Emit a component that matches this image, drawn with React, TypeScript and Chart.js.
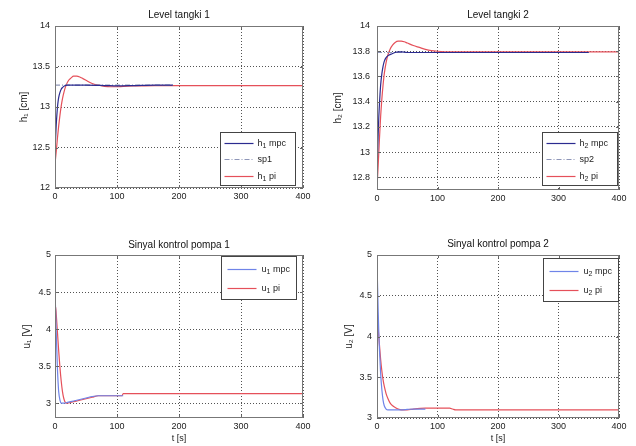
import React, { useEffect, useRef } from "react";
import { Chart, registerables } from "chart.js";

Chart.register(...registerables);

const FONT = "'Liberation Sans', Arial, Helvetica, 'DejaVu Sans', sans-serif";

// ---------- tick labels ----------
const xTicks = [0, 100, 200, 300, 400];
const h1Ticks = [12, 12.5, 13, 13.5, 14];
const h2Ticks = [12.8, 13, 13.2, 13.4, 13.6, 13.8, 14];
const u1Ticks = [3, 3.5, 4, 4.5, 5];
const u2Ticks = [3, 3.5, 4, 4.5, 5];

// ---------- Level tangki 1 ----------
const h1MpcT = [0, 1, 2, 3, 4, 5, 6, 8, 10, 12, 15, 20, 30, 50, 80, 100, 130, 160, 190];
const h1MpcY = [12.45, 12.62, 12.78, 12.9, 13.0, 13.07, 13.12, 13.18, 13.22, 13.24, 13.26, 13.27, 13.27, 13.27, 13.265, 13.26, 13.265, 13.27, 13.27];
const sp1T = [0, 190];
const sp1Y = [13.27, 13.27];
const h1PiT = [0, 2, 4, 6, 8, 10, 12, 15, 18, 22, 26, 30, 35, 40, 45, 50, 60, 70, 80, 90, 100, 110, 130, 160, 200, 300, 400];
const h1PiY = [12.3, 12.45, 12.62, 12.77, 12.9, 13.01, 13.1, 13.2, 13.27, 13.33, 13.36, 13.38, 13.38, 13.37, 13.35, 13.33, 13.29, 13.27, 13.255, 13.25, 13.25, 13.255, 13.26, 13.265, 13.265, 13.265, 13.265];

// ---------- Level tangki 2 ----------
const h2MpcT = [0, 1, 2, 3, 4, 5, 6, 8, 10, 12, 15, 20, 25, 30, 35, 40, 50, 70, 100, 150, 200, 250, 300, 350];
const h2MpcY = [12.85, 13.0, 13.15, 13.28, 13.38, 13.46, 13.53, 13.62, 13.68, 13.72, 13.75, 13.77, 13.78, 13.79, 13.795, 13.795, 13.79, 13.79, 13.79, 13.79, 13.79, 13.79, 13.79, 13.79];
const sp2T = [0, 350];
const sp2Y = [13.79, 13.79];
const h2PiT = [0, 2, 4, 6, 8, 10, 12, 15, 18, 22, 26, 30, 35, 40, 45, 50, 60, 70, 80, 90, 100, 120, 150, 200, 300, 400];
const h2PiY = [12.72, 12.9, 13.1, 13.28, 13.42, 13.53, 13.62, 13.71, 13.77, 13.82, 13.85, 13.87, 13.88, 13.88, 13.875, 13.865, 13.845, 13.83, 13.815, 13.805, 13.8, 13.795, 13.795, 13.795, 13.795, 13.795];

// ---------- Sinyal kontrol pompa 1 ----------
const u1MpcT = [0, 1, 2, 3, 4, 5, 6, 8, 10, 15, 20, 25, 30, 40, 50, 60, 70, 80, 90, 100, 110];
const u1MpcY = [4.5, 4.25, 3.95, 3.7, 3.45, 3.28, 3.15, 3.04, 3.0, 3.0, 3.01, 3.02, 3.03, 3.05, 3.07, 3.09, 3.1, 3.1, 3.1, 3.1, 3.1];
const u1PiT = [0, 1, 2, 4, 6, 8, 10, 12, 14, 16, 18, 20, 25, 30, 40, 50, 60, 70, 80, 90, 100, 108, 110, 150, 200, 300, 400];
const u1PiY = [4.25, 4.3, 4.2, 3.95, 3.7, 3.48, 3.3, 3.16, 3.07, 3.02, 3.0, 3.0, 3.01, 3.02, 3.04, 3.06, 3.08, 3.1, 3.1, 3.1, 3.1, 3.1, 3.13, 3.13, 3.13, 3.13, 3.13];

// ---------- Sinyal kontrol pompa 2 ----------
const u2MpcT = [0, 1, 2, 3, 4, 5, 6, 8, 10, 12, 15, 18, 20, 25, 30, 40, 50, 60, 70, 80];
const u2MpcY = [4.9, 4.6, 4.3, 4.05, 3.85, 3.7, 3.55, 3.35, 3.22, 3.15, 3.11, 3.1, 3.1, 3.1, 3.1, 3.1, 3.105, 3.11, 3.11, 3.11];
const u2PiT = [0, 1, 2, 4, 6, 8, 10, 12, 15, 18, 22, 26, 30, 35, 40, 45, 50, 60, 80, 100, 120, 125, 130, 200, 300, 400];
const u2PiY = [4.3, 4.25, 4.1, 3.9, 3.72, 3.58, 3.47, 3.39, 3.3, 3.24, 3.18, 3.15, 3.13, 3.11, 3.1, 3.1, 3.1, 3.11, 3.12, 3.12, 3.12, 3.11, 3.1, 3.1, 3.1, 3.1];

// ---------- styles ----------
const MPC_DARK = "#2b2b90";
const MPC_LIGHT = "#6f84e8";
const SP_COLOR = "#8e96b8";
const PI_COLOR = "#e5505a";
const GRID = "rgba(40,40,40,0.8)";
const TEXT = "#222";
const LINE_W = 1.2;

type Series = { label: string; t: number[]; y: number[]; color: string; dash?: number[] };
type Legend = { anchor: "top" | "bottom"; insetR: number; insetV: number; w: number; h: number; rows: number[]; lineX0: number; lineX1: number; textX: number };
type Panel = {
  left: number; top: number; width: number; height: number;
  area: { l: number; t: number; r: number; b: number };
  title: string; titlePadTop: number;
  yTitle: string; yTitlePad: number; yTickPad: number;
  xTitle?: string;
  yMin: number; yMax: number; yTicks: number[];
  series: Series[];
  legend: Legend;
};

const topLegend = (insetR: number, insetV: number): Legend => ({ anchor: "bottom", insetR, insetV, w: 75, h: 53, rows: [10, 26.5, 43], lineX0: 4, lineX1: 33, textX: 37 });
const botLegend = (insetR: number, insetV: number): Legend => ({ anchor: "top", insetR, insetV, w: 75, h: 43, rows: [12, 31], lineX0: 6, lineX1: 35, textX: 40 });

const panels: Panel[] = [
  {
    left: 0, top: 0, width: 318, height: 223,
    area: { l: 55, t: 26, r: 303, b: 188 },
    title: "Level tangki 1", titlePadTop: 9,
    yTitle: "h\u2081 [cm]", yTitlePad: 18, yTickPad: 5,
    yMin: 12, yMax: 14, yTicks: h1Ticks,
    series: [
      { label: "h_1 mpc", t: h1MpcT, y: h1MpcY, color: MPC_DARK },
      { label: "sp1", t: sp1T, y: sp1Y, color: SP_COLOR, dash: [5, 2, 1, 2] },
      { label: "h_1 pi", t: h1PiT, y: h1PiY, color: PI_COLOR },
    ],
    legend: topLegend(8, 3),
  },
  {
    left: 318, top: 0, width: 318, height: 223,
    area: { l: 59, t: 26, r: 301, b: 190 },
    title: "Level tangki 2", titlePadTop: 9,
    yTitle: "h\u2082 [cm]", yTitlePad: 14, yTickPad: 7,
    yMin: 12.7, yMax: 14, yTicks: h2Ticks,
    series: [
      { label: "h_2 mpc", t: h2MpcT, y: h2MpcY, color: MPC_DARK },
      { label: "sp2", t: sp2T, y: sp2Y, color: SP_COLOR, dash: [5, 2, 1, 2] },
      { label: "h_2 pi", t: h2PiT, y: h2PiY, color: PI_COLOR },
    ],
    legend: topLegend(2, 5),
  },
  {
    left: 0, top: 223, width: 318, height: 223,
    area: { l: 55, t: 32, r: 303, b: 195 },
    title: "Sinyal kontrol pompa 1", titlePadTop: 16,
    yTitle: "u\u2081 [V]", yTitlePad: 21, yTickPad: 4,
    xTitle: "t [s]",
    yMin: 2.8, yMax: 5, yTicks: u1Ticks,
    series: [
      { label: "u_1 mpc", t: u1MpcT, y: u1MpcY, color: MPC_LIGHT },
      { label: "u_1 pi", t: u1PiT, y: u1PiY, color: PI_COLOR },
    ],
    legend: botLegend(7, 1),
  },
  {
    left: 318, top: 223, width: 318, height: 223,
    area: { l: 59, t: 32, r: 301, b: 195 },
    title: "Sinyal kontrol pompa 2", titlePadTop: 15,
    yTitle: "u\u2082 [V]", yTitlePad: 25, yTickPad: 5,
    xTitle: "t [s]",
    yMin: 3, yMax: 5, yTicks: u2Ticks,
    series: [
      { label: "u_2 mpc", t: u2MpcT, y: u2MpcY, color: MPC_LIGHT },
      { label: "u_2 pi", t: u2PiT, y: u2PiY, color: PI_COLOR },
    ],
    legend: botLegend(1, 3),
  },
];

function drawSubLabel(ctx: CanvasRenderingContext2D, text: string, x: number, y: number) {
  const m = text.match(/^(.*?)_(\d)(.*)$/);
  ctx.textBaseline = "middle";
  ctx.textAlign = "left";
  ctx.font = `9px ${FONT}`;
  if (!m) {
    ctx.fillText(text, x, y);
    return;
  }
  ctx.fillText(m[1], x, y);
  let cx = x + ctx.measureText(m[1]).width;
  ctx.font = `7px ${FONT}`;
  ctx.fillText(m[2], cx, y + 3);
  cx += ctx.measureText(m[2]).width;
  ctx.font = `9px ${FONT}`;
  ctx.fillText(m[3], cx, y);
}

function makeOverlay(p: Panel) {
  return {
    id: "matlabBox",
    afterDraw(chart: any) {
      const ctx: CanvasRenderingContext2D = chart.ctx;
      const a = chart.chartArea;
      const xs = chart.scales.x;
      const ys = chart.scales.y;
      ctx.save();
      ctx.setLineDash([]);
      ctx.lineWidth = 1;
      ctx.strokeStyle = "#666";
      ctx.beginPath();
      xTicks.forEach((v) => {
        const px = Math.round(xs.getPixelForValue(v)) + 0.5;
        ctx.moveTo(px, a.bottom);
        ctx.lineTo(px, a.bottom - 3);
        ctx.moveTo(px, a.top);
        ctx.lineTo(px, a.top + 3);
      });
      p.yTicks.forEach((v) => {
        const py = Math.round(ys.getPixelForValue(v)) + 0.5;
        ctx.moveTo(a.left, py);
        ctx.lineTo(a.left + 3, py);
        ctx.moveTo(a.right, py);
        ctx.lineTo(a.right - 3, py);
      });
      ctx.stroke();
      ctx.strokeStyle = "#777";
      ctx.strokeRect(Math.round(a.left) + 0.5, Math.round(a.top) + 0.5, Math.round(a.right - a.left) - 1, Math.round(a.bottom - a.top) - 1);

      const L = p.legend;
      const bx = Math.round(a.right - L.insetR - L.w) + 0.5;
      const by = Math.round(L.anchor === "top" ? a.top + L.insetV : a.bottom - L.insetV - L.h) + 0.5;
      ctx.fillStyle = "#fff";
      ctx.fillRect(bx, by, L.w, L.h);
      ctx.strokeStyle = "#444";
      ctx.strokeRect(bx, by, L.w, L.h);
      p.series.forEach((s, i) => {
        const ry = Math.round(by + L.rows[i]) + 0.5;
        ctx.strokeStyle = s.color;
        ctx.lineWidth = LINE_W;
        ctx.setLineDash(s.dash ?? []);
        ctx.beginPath();
        ctx.moveTo(bx + L.lineX0, ry);
        ctx.lineTo(bx + L.lineX1, ry);
        ctx.stroke();
        ctx.setLineDash([]);
        ctx.fillStyle = TEXT;
        drawSubLabel(ctx, s.label, bx + L.textX, ry);
      });
      ctx.restore();
    },
  };
}

function PanelChart({ p }: { p: Panel }) {
  const ref = useRef<HTMLCanvasElement | null>(null);
  useEffect(() => {
    if (!ref.current) return;
    const tickFont = { family: FONT, size: 9 };
    const chart = new Chart(ref.current, {
      type: "line",
      data: {
        datasets: p.series.map((s) => ({
          label: s.label,
          data: s.t.map((t, i) => ({ x: t, y: s.y[i] })),
          borderColor: s.color,
          backgroundColor: s.color,
          borderWidth: LINE_W,
          borderDash: s.dash ?? [],
          pointRadius: 0,
          fill: false,
          cubicInterpolationMode: "monotone",
        })),
      },
      options: {
        animation: false,
        responsive: false,
        maintainAspectRatio: false,
        events: [],
        layout: { padding: { left: 0, right: p.width - p.area.r, top: 0, bottom: 0 } },
        plugins: {
          legend: { display: false },
          tooltip: { enabled: false },
          title: {
            display: true,
            text: p.title,
            fullSize: false,
            color: "#111",
            font: { family: FONT, size: 10, weight: "normal" as any },
            padding: { top: p.titlePadTop, bottom: p.area.t - p.titlePadTop - 12 },
          },
        },
        scales: {
          x: {
            type: "linear",
            min: 0,
            max: 400,
            afterBuildTicks: (s: any) => {
              s.ticks = xTicks.map((v) => ({ value: v }));
            },
            afterFit: (s: any) => {
              s.height = p.height - p.area.b;
            },
            ticks: { font: tickFont, color: TEXT, padding: 3, maxRotation: 0, autoSkip: false, callback: (v: any) => String(v) },
            grid: { color: GRID, drawTicks: false, lineWidth: 1 },
            border: { display: false, dash: [1, 2] },
            title: {
              display: !!p.xTitle,
              text: p.xTitle ?? "",
              color: TEXT,
              font: { family: FONT, size: 9 },
              padding: { top: 0, bottom: 2 },
            },
          },
          y: {
            type: "linear",
            min: p.yMin,
            max: p.yMax,
            afterBuildTicks: (s: any) => {
              s.ticks = p.yTicks.map((v) => ({ value: v }));
            },
            afterFit: (s: any) => {
              s.width = p.area.l;
            },
            ticks: { font: tickFont, color: TEXT, padding: p.yTickPad, autoSkip: false, callback: (v: any) => String(v) },
            grid: { color: GRID, drawTicks: false, lineWidth: 1 },
            border: { display: false, dash: [1, 2] },
            title: {
              display: true,
              text: p.yTitle,
              color: TEXT,
              font: { family: FONT, size: 10 },
              padding: { top: p.yTitlePad, bottom: 0 },
            },
          },
        },
      } as any,
      plugins: [makeOverlay(p)],
    });
    return () => chart.destroy();
  }, [p]);
  return (
    <div style={{ position: "absolute", left: p.left, top: p.top, width: p.width, height: p.height }}>
      <canvas ref={ref} width={p.width} height={p.height} style={{ width: p.width, height: p.height, display: "block" }} />
    </div>
  );
}

export default function App() {
  return (
    <div style={{ position: "fixed", left: 0, top: 0, width: 636, height: 446, background: "#fff", overflow: "hidden" }}>
      {panels.map((p, i) => (
        <PanelChart key={i} p={p} />
      ))}
    </div>
  );
}
